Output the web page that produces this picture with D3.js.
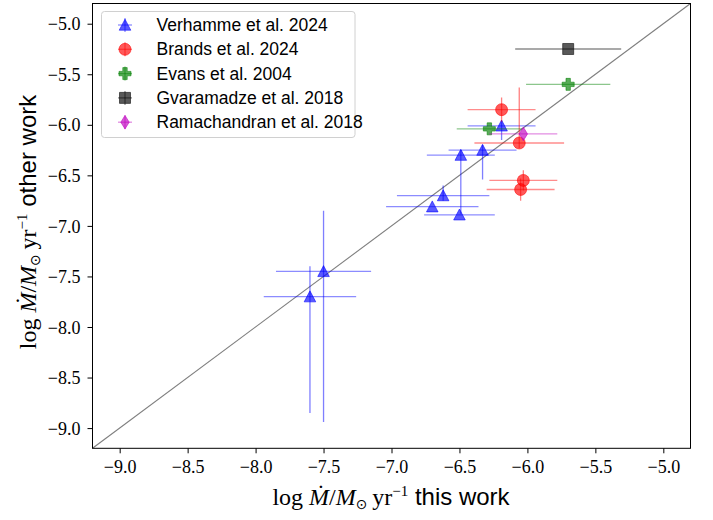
<!DOCTYPE html>
<html>
<head>
<meta charset="utf-8">
<script src="https://cdn.jsdelivr.net/npm/d3@7"></script>
<style>
  html, body { margin: 0; padding: 0; background: #fff; }
  svg { display: block; }
</style>
</head>
<body>
<svg id="chart" width="713" height="520"></svg>
<script>
// ---------------- data ----------------
const xTicks = [-9.0, -8.5, -8.0, -7.5, -7.0, -6.5, -6.0, -5.5, -5.0];
const yTicks = [-9.0, -8.5, -8.0, -7.5, -7.0, -6.5, -6.0, -5.5, -5.0];

const verhammeX      = [-6.19, -6.33, -6.49, -6.62, -6.50, -6.70, -7.50, -7.60];
const verhammeY      = [-6.01, -6.25, -6.30, -6.70, -6.89, -6.81, -7.45, -7.70];
const verhammeXErr   = [0.25, 0.25, 0.25, 0.34, 0.26, 0.34, 0.35, 0.34];
const verhammeYErrLo = [0.14, 0.29, 0.58, 0.05, 0.0, 0.0, 1.49, 1.15];
const verhammeYErrHi = [0.05, 0.05, 0.05, 0.10, 0.0, 0.0, 0.60, 0.30];

const brandsX      = [-6.19, -6.06, -6.03, -6.05];
const brandsY      = [-5.85, -6.18, -6.55, -6.64];
const brandsXErr   = [0.25, 0.33, 0.25, 0.25];
const brandsYErrLo = [0.12, 0.05, 0.10, 0.11];
const brandsYErrHi = [0.12, 0.55, 0.10, 0.11];

const evansX    = [-5.70, -6.28];
const evansY    = [-5.60, -6.04];
const evansXErr = [0.31, 0.24];

const gvaraX    = [-5.70];
const gvaraY    = [-5.25];
const gvaraXErr = [0.39];

const ramaX    = [-6.03];
const ramaY    = [-6.09];
const ramaXErr = [0.25];

const legendLabels = ["Verhamme et al. 2024", "Brands et al. 2024", "Evans et al. 2004",
                      "Gvaramadze et al. 2018", "Ramachandran et al. 2018"];

// ---------------- layout ----------------
const svg = d3.select("#chart");
const L = 92.5, R = 690.5, T = 3.5, B = 448.3;
const x = d3.scaleLinear().domain([-9.2, -4.8]).range([L, R]);
const y = d3.scaleLinear().domain([-9.2, -4.8]).range([B, T]);

// marker paths (centered at 0,0)
const markerPath = {
  tri: "M0,-5.8L5.8,5.2L-5.8,5.2Z",
  circle: "M6,0A6,6 0 1,1 -6,0A6,6 0 1,1 6,0Z",
  square: "M-5.5,-5.5H5.5V5.5H-5.5Z",
  plus: "M-2.2,-6H2.2V-2.2H6V2.2H2.2V6H-2.2V2.2H-6V-2.2H-2.2Z",
  diamond: "M0,-6.8L4.2,0L0,6.8L-4.2,0Z"
};

function series(xs, ys, xe, yeLo, yeHi, color, shape) {
  return xs.map((v, i) => ({
    x: v, y: ys[i], xe: xe[i],
    yl: yeLo ? yeLo[i] : 0, yh: yeHi ? yeHi[i] : 0,
    color, shape
  }));
}

const groups = [
  { name: legendLabels[0], color: "#0000ff", shape: "tri",
    pts: series(verhammeX, verhammeY, verhammeXErr, verhammeYErrLo, verhammeYErrHi, "#0000ff", "tri") },
  { name: legendLabels[1], color: "#ff0000", shape: "circle",
    pts: series(brandsX, brandsY, brandsXErr, brandsYErrLo, brandsYErrHi, "#ff0000", "circle") },
  { name: legendLabels[2], color: "#008000", shape: "plus",
    pts: series(evansX, evansY, evansXErr, null, null, "#008000", "plus") },
  { name: legendLabels[3], color: "#000000", shape: "square",
    pts: series(gvaraX, gvaraY, gvaraXErr, null, null, "#000000", "square") },
  { name: legendLabels[4], color: "#bf00bf", shape: "diamond",
    pts: series(ramaX, ramaY, ramaXErr, null, null, "#bf00bf", "diamond") }
];

// clip
svg.append("defs").append("clipPath").attr("id", "plotclip")
  .append("rect").attr("x", L).attr("y", T).attr("width", R - L).attr("height", B - T);

const plot = svg.append("g").attr("clip-path", "url(#plotclip)");

// 1:1 line
plot.append("line")
  .attr("x1", x(-9.2)).attr("y1", y(-9.2))
  .attr("x2", x(-4.8)).attr("y2", y(-4.8))
  .attr("stroke", "#7f7f7f").attr("stroke-width", 1.1);

// error bars + markers, group by group
groups.forEach(g => {
  const gg = plot.append("g");
  g.pts.forEach(p => {
    gg.append("line")
      .attr("x1", x(p.x - p.xe)).attr("x2", x(p.x + p.xe))
      .attr("y1", y(p.y)).attr("y2", y(p.y))
      .attr("stroke", p.color).attr("stroke-opacity", 0.45).attr("stroke-width", 1.3);
    if (p.yl > 0 || p.yh > 0) {
      gg.append("line")
        .attr("x1", x(p.x)).attr("x2", x(p.x))
        .attr("y1", y(p.y - p.yl)).attr("y2", y(p.y + p.yh))
        .attr("stroke", p.color).attr("stroke-opacity", 0.5).attr("stroke-width", 1.3);
    }
  });
  g.pts.forEach(p => {
    gg.append("path")
      .attr("d", markerPath[p.shape])
      .attr("transform", `translate(${x(p.x)},${y(p.y)})`)
      .attr("fill", p.color).attr("fill-opacity", 0.65)
      .attr("stroke", p.color).attr("stroke-opacity", 0.55).attr("stroke-width", 1);
  });
});

// frame
svg.append("rect").attr("x", L).attr("y", T).attr("width", R - L).attr("height", B - T)
  .attr("fill", "none").attr("stroke", "#000").attr("stroke-width", 1);

// axes
const tickFmt = d3.format(".1f");
const xAxis = svg.append("g").attr("transform", `translate(0,${B})`)
  .call(d3.axisBottom(x).tickValues(xTicks).tickFormat(tickFmt).tickSize(5).tickPadding(6));
const yAxis = svg.append("g").attr("transform", `translate(${L},0)`)
  .call(d3.axisLeft(y).tickValues(yTicks).tickFormat(tickFmt).tickSize(5).tickPadding(6));
[xAxis, yAxis].forEach(a => {
  a.select(".domain").remove();
  a.selectAll(".tick line").attr("stroke", "#000").attr("stroke-width", 1);
  a.selectAll(".tick text")
    .attr("font-family", "'Liberation Serif', 'DejaVu Serif', serif")
    .attr("font-size", 18).attr("fill", "#000");
});
xAxis.selectAll(".tick text").attr("y", 12).attr("dy", "0.71em");
yAxis.selectAll(".tick text").attr("x", -12).attr("dy", "0.34em");

// axis labels with math
function mathLabel(sel, suffix) {
  const serif = "'Liberation Serif', 'DejaVu Serif', serif";
  const sans = "'Liberation Sans', 'DejaVu Sans', sans-serif";
  const parts = [
    { t: "log ", f: serif, dy: 0 },
    { t: "\u1E40", f: serif, i: true, dy: 0 },
    { t: "/", f: serif, dy: 0 },
    { t: "M", f: serif, i: true, dy: 0 },
    { t: "\u2299", f: "'DejaVu Sans', sans-serif", fs: 14, dy: 4 },
    { t: "\u2009yr", f: serif, dy: -4 },
    { t: "\u22121", f: serif, fs: 15, dy: -9 },
    { t: suffix, f: sans, fs: 24, dy: 9 }
  ];
  parts.forEach(p => {
    const ts = sel.append("tspan").text(p.t).attr("font-family", p.f).attr("dy", p.dy);
    if (p.i) ts.attr("font-style", "italic");
    if (p.fs) ts.attr("font-size", p.fs);
  });
}

const xl = svg.append("text").attr("x", 391).attr("y", 505)
  .attr("text-anchor", "middle").attr("font-size", 24).attr("fill", "#000");
mathLabel(xl, " this work");

const yl = svg.append("text").attr("transform", "translate(36,222) rotate(-90)")
  .attr("text-anchor", "middle").attr("font-size", 24).attr("fill", "#000");
mathLabel(yl, " other work");

// legend
const lg = svg.append("g");
lg.append("rect").attr("x", 101.5).attr("y", 11.5).attr("width", 253.5).attr("height", 126)
  .attr("rx", 3).attr("fill", "#fff").attr("fill-opacity", 0.8)
  .attr("stroke", "#d0d0d0").attr("stroke-width", 1);
groups.forEach((g, i) => {
  const cy = 25 + i * 24.3;
  const row = lg.append("g").attr("transform", `translate(125,${cy})`);
  row.append("line").attr("x1", -7).attr("x2", 7).attr("y1", 0).attr("y2", 0)
    .attr("stroke", g.color).attr("stroke-opacity", 0.45).attr("stroke-width", 1.3);
  row.append("line").attr("x1", 0).attr("x2", 0).attr("y1", -7).attr("y2", 7)
    .attr("stroke", g.color).attr("stroke-opacity", 0.45).attr("stroke-width", 1.3);
  row.append("path").attr("d", markerPath[g.shape])
    .attr("fill", g.color).attr("fill-opacity", 0.65)
    .attr("stroke", g.color).attr("stroke-opacity", 0.55).attr("stroke-width", 1);
  lg.append("text").attr("x", 156.5).attr("y", cy + 6)
    .attr("font-family", "'Liberation Sans', 'DejaVu Sans', sans-serif")
    .attr("font-size", 17.5).attr("fill", "#000").text(g.name);
});
</script>
</body>
</html>
